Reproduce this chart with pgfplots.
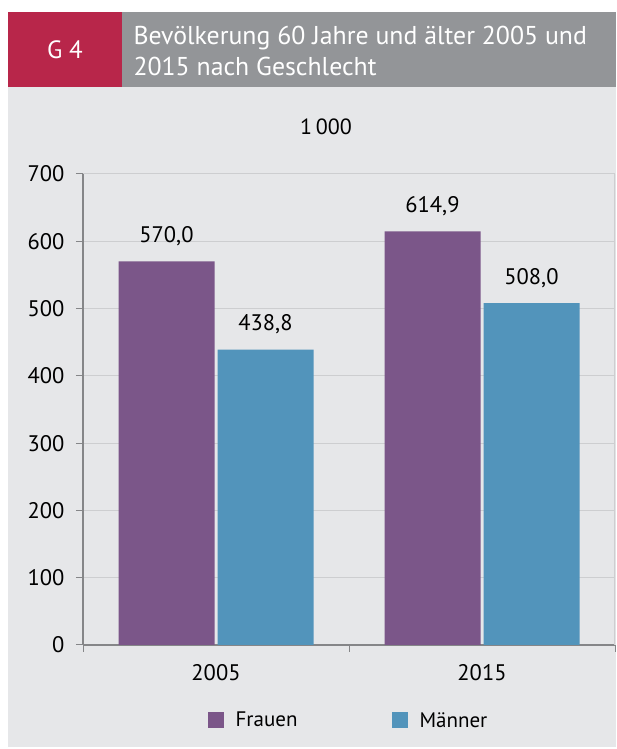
\documentclass[border=0pt]{standalone}
\usepackage{pgfplots}
\pgfplotsset{compat=1.18}
\usepackage{fontspec}
\setmainfont{PT Sans}
\definecolor{bgpanel}{HTML}{E6E7E9}
\definecolor{hdrgray}{HTML}{939598}
\definecolor{hdrred}{HTML}{B8264A}
\definecolor{frauen}{HTML}{7B5689}
\definecolor{maenner}{HTML}{5294BB}
\definecolor{gridc}{HTML}{CDCED0}
\definecolor{axisc}{HTML}{858688}
\begin{document}
\begin{tikzpicture}
\useasboundingbox (0pt,0pt) rectangle (616pt,749pt);
\fill[white] (0pt,0pt) rectangle (616pt,749pt);
\fill[bgpanel] (8pt,2pt) rectangle (616pt,662pt);
\fill[hdrred] (8pt,662pt) rectangle (122pt,737pt);
\fill[hdrgray] (122pt,662pt) rectangle (616pt,737pt);
\node[white,font=\fontsize{25}{30}\selectfont] at (65pt,699pt) {G 4};
\node[white,anchor=west,align=left,font=\fontsize{25.8}{31}\selectfont] at (130pt,698pt) {Bevölkerung 60 Jahre und älter 2005 und\\2015 nach Geschlecht};
\node[font=\fontsize{22}{26}\selectfont] at (326pt,622pt) {1\,000};
\begin{axis}[
  at={(83pt,104pt)}, anchor=south west,
  scale only axis, width=532pt, height=471pt,
  xmin=-0.5, xmax=1.5, ymin=0, ymax=700,
  axis x line*=bottom, axis y line*=left,
  axis line style={draw=axisc, line width=1.6pt},
  tick align=outside,
  ytick={0,100,...,700},
  ymajorgrids, grid style={draw=gridc, line width=1pt},
  major tick style={draw=axisc, line width=1pt},
  major tick length=7pt,
  yticklabel style={font=\fontsize{22.5}{26}\selectfont, xshift=-8pt},
  xtick={-0.5,0.5,1.5}, xticklabels={},
  extra x ticks={0,1}, extra x tick labels={2005,2015},
  extra x tick style={major tick length=0pt, xticklabel style={font=\fontsize{22.5}{26}\selectfont, yshift=-16pt}},
  /pgf/number format/assume math mode=true,
  ybar, bar width=96pt,
  nodes near coords,
  nodes near coords style={font=\fontsize{22.5}{26}\selectfont, yshift=12pt,
    /pgf/number format/.cd, fixed, fixed zerofill, precision=1, use comma},
  legend columns=2,
  legend style={at={(0.499,-0.16)}, anchor=center, draw=none, fill=none,
    font=\fontsize{21}{25}\selectfont,
    /tikz/every odd column/.append style={column sep=10pt},
    /tikz/every even column/.append style={column sep=92pt}},
  legend image code/.code={\fill[#1] (0pt,-8pt) rectangle (16pt,8pt);},
]
\addplot[fill=frauen, draw=none, bar shift=-49.5pt] coordinates {(0,570.0) (1,614.9)};
\addplot[fill=maenner, draw=none, bar shift=49.5pt] coordinates {(0,438.8) (1,508.0)};
\legend{Frauen, Männer}
\draw[gridc, line width=1.2pt] (axis cs:1.5,0) -- (axis cs:1.5,700);
\end{axis}
\end{tikzpicture}
\end{document}
